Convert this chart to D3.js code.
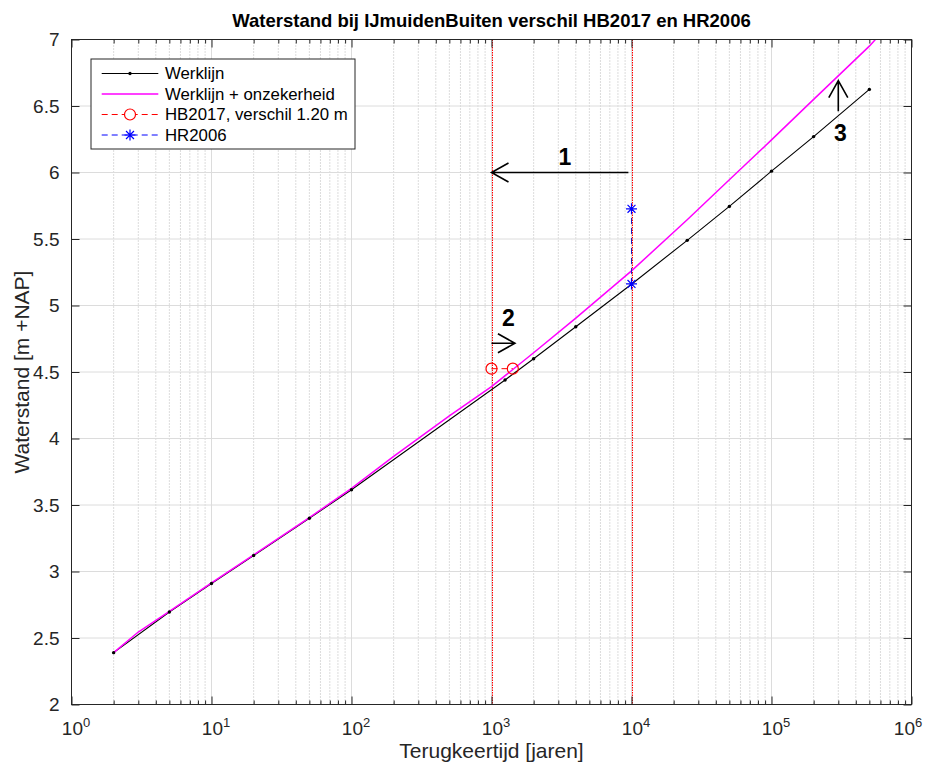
<!DOCTYPE html>
<html><head><meta charset="utf-8">
<script src="https://cdn.jsdelivr.net/npm/d3@7"></script>
<style>body{margin:0;background:#fff} svg{display:block;font-family:"Liberation Sans",Arial,Helvetica,sans-serif}</style>
</head><body><svg id="c" width="925" height="763"></svg>
<script>
// ---- data ----
const werklijnT = [2,5,10,20,50,100,1250,2000,4000,10000,25000,50000,100000,200000,500000];
const werklijnW = [2.39,2.695,2.91,3.12,3.40,3.615,4.44,4.60,4.84,5.16,5.49,5.745,6.01,6.27,6.625];
const onzekerT = [2,3,5,10,20,50,100,200,500,1000,2000,4000,10000,25000,50000,100000,200000,500000,1000000];
const onzekerW = [2.39,2.545,2.70,2.915,3.125,3.405,3.625,3.865,4.17,4.39,4.645,4.905,5.26,5.645,5.945,6.245,6.55,6.95,7.30];
const hb2017T = [1000,1420];
const hb2017W = [4.525,4.525];
const hr2006T = [10000,10000];
const hr2006W = [5.162,5.727];
const refLinesT = [1000,10000];
const xTickExp = [0,1,2,3,4,5,6];
const yTicks = [2,2.5,3,3.5,4,4.5,5,5.5,6,6.5,7];
const yTickLabels = ["2","2.5","3","3.5","4","4.5","5","5.5","6","6.5","7"];
const legendLabels = ["Werklijn","Werklijn + onzekerheid","HB2017, verschil 1.20 m","HR2006"];
const arrowLabels = ["1","2","3"];
const arrowFromT = [9500,1000,300000];
const arrowFromW = [6.0,4.716,6.46];
const arrowToT = [1000,1470,300000];
const arrowToW = [6.0,4.716,6.69];
const arrowLabelT = [3350,1318,310000];
const arrowLabelW = [6.117,4.904,6.30];
const titleText = "Waterstand bij IJmuidenBuiten verschil HB2017 en HR2006";
const xLabelText = "Terugkeertijd [jaren]";
const yLabelText = "Waterstand [m +NAP]";

// ---- layout ----
const L = 71.5, R = 911.5, T = 39.5, B = 704.5;
const svg = d3.select("#c");
const x = d3.scaleLog().domain([1,1e6]).range([L,R]);
const y = d3.scaleLinear().domain([2,7]).range([B,T]);
const axisColor = "#262626";

const xMajor = xTickExp.map(e => Math.pow(10,e));
const xMinor = [];
for (let e = 0; e < 6; e++) for (let k = 2; k <= 9; k++) xMinor.push(k*Math.pow(10,e));

// grid
const grid = svg.append("g");
grid.selectAll(".gmin").data(xMinor).enter().append("line")
  .attr("x1",d=>x(d)).attr("x2",d=>x(d)).attr("y1",T).attr("y2",B)
  .attr("stroke","#b8b8b8").attr("stroke-width",1).attr("stroke-dasharray","1,2");
grid.selectAll(".gmaj").data(xMajor.slice(1,-1)).enter().append("line")
  .attr("x1",d=>x(d)).attr("x2",d=>x(d)).attr("y1",T).attr("y2",B)
  .attr("stroke","#dcdcdc").attr("stroke-width",1);
grid.selectAll(".gy").data(yTicks.slice(1,-1)).enter().append("line")
  .attr("x1",L).attr("x2",R).attr("y1",d=>y(d)).attr("y2",d=>y(d))
  .attr("stroke","#dcdcdc").attr("stroke-width",1);

// clip
svg.append("clipPath").attr("id","clip").append("rect").attr("x",L).attr("y",T).attr("width",R-L).attr("height",B-T);
const plot = svg.append("g").attr("clip-path","url(#clip)");

// reference vertical lines (dotted red)
plot.selectAll(".ref").data(refLinesT).enter().append("line")
  .attr("x1",d=>Math.round(x(d))+0.5).attr("x2",d=>Math.round(x(d))+0.5).attr("y1",T).attr("y2",B)
  .attr("stroke","#ff0000").attr("stroke-width",1).attr("stroke-dasharray","1.5,1");

const line = d3.line().x(d=>x(d[0])).y(d=>y(d[1]));
const onz = onzekerT.map((t,i)=>[t,onzekerW[i]]);
const wrk = werklijnT.map((t,i)=>[t,werklijnW[i]]);
const hb = hb2017T.map((t,i)=>[t,hb2017W[i]]);
const hr = hr2006T.map((t,i)=>[t,hr2006W[i]]);

plot.append("path").attr("d",line(wrk)).attr("fill","none").attr("stroke","#000").attr("stroke-width",1.1);
plot.append("path").attr("d",line(onz)).attr("fill","none").attr("stroke","#ff00ff").attr("stroke-width",1.5);
plot.selectAll(".dot").data(wrk).enter().append("circle")
  .attr("cx",d=>x(d[0])).attr("cy",d=>y(d[1])).attr("r",1.7).attr("fill","#000");

plot.append("path").attr("d",line(hb)).attr("fill","none").attr("stroke","#ff0000").attr("stroke-width",1).attr("stroke-dasharray","6,4");
plot.selectAll(".hbc").data(hb).enter().append("circle")
  .attr("cx",d=>x(d[0])).attr("cy",d=>y(d[1])).attr("r",5.5).attr("fill","none").attr("stroke","#ff0000").attr("stroke-width",1.2);

function starPath(r){const a=r*0.72;return `M${-r},0L${r},0M0,${-r}L0,${r}M${-a},${-a}L${a},${a}M${-a},${a}L${a},${-a}`;}
plot.append("path").attr("d",line(hr)).attr("fill","none").attr("stroke","#2020c0").attr("stroke-width",1).attr("stroke-dasharray","6,4");
plot.selectAll(".hrs").data(hr).enter().append("path")
  .attr("transform",d=>`translate(${x(d[0])},${y(d[1])})`).attr("d",starPath(5.5))
  .attr("stroke","#0000ff").attr("stroke-width",1.2).attr("fill","none");

// frame
svg.append("rect").attr("x",L).attr("y",T).attr("width",R-L).attr("height",B-T)
  .attr("fill","none").attr("stroke",axisColor).attr("stroke-width",1);

// axes
function styleAxis(g){g.select(".domain").remove();g.selectAll(".tick line").attr("stroke",axisColor);}
const xb = svg.append("g").attr("transform",`translate(0,${B})`)
  .call(d3.axisBottom(x).tickValues(xMajor).tickSize(-8).tickPadding(17).tickFormat(""));
styleAxis(xb);
xb.selectAll(".tick text").each(function(d,i){
  const t=d3.select(this).attr("fill",axisColor).attr("font-size","19px").attr("dx", i===xTickExp.length-1 ? "-4" : "4");
  t.append("tspan").text("10");
  t.append("tspan").attr("dy","-0.6em").attr("font-size","13px").text(xTickExp[i]);
});
svg.append("g").attr("transform",`translate(0,${B})`)
  .call(d3.axisBottom(x).tickValues(xMinor).tickSize(-4).tickFormat("")).call(styleAxis);
svg.append("g").attr("transform",`translate(0,${T})`)
  .call(d3.axisTop(x).tickValues(xMajor).tickSize(-8).tickFormat("")).call(styleAxis);
svg.append("g").attr("transform",`translate(0,${T})`)
  .call(d3.axisTop(x).tickValues(xMinor).tickSize(-4).tickFormat("")).call(styleAxis);

const yl = svg.append("g").attr("transform",`translate(${L},0)`)
  .call(d3.axisLeft(y).tickValues(yTicks).tickSize(-8).tickPadding(12).tickFormat((d,i)=>yTickLabels[i]));
styleAxis(yl);
yl.selectAll(".tick text").attr("fill",axisColor).attr("font-size","19px").attr("font-family","Liberation Sans, Arial, sans-serif");
svg.append("g").attr("transform",`translate(${R},0)`)
  .call(d3.axisRight(y).tickValues(yTicks).tickSize(-8).tickFormat("")).call(styleAxis);

// titles
svg.append("text").attr("x",(L+R)/2).attr("y",27).attr("text-anchor","middle")
  .attr("font-size","18.5px").attr("font-weight","bold").attr("fill","#000").text(titleText);
svg.append("text").attr("x",(L+R)/2).attr("y",758).attr("text-anchor","middle")
  .attr("font-size","21px").attr("fill",axisColor).text(xLabelText);
svg.append("text").attr("transform",`translate(29,${(T+B)/2}) rotate(-90)`).attr("text-anchor","middle")
  .attr("font-size","21px").attr("fill",axisColor).text(yLabelText);

// arrows
const ann = svg.append("g");
arrowLabels.forEach((lab,i)=>{
  const x1=x(arrowFromT[i]), y1=y(arrowFromW[i]), x2=x(arrowToT[i]), y2=y(arrowToW[i]);
  const ang=Math.atan2(y2-y1,x2-x1), hl=17, hw=9.5;
  const bx=x2-hl*Math.cos(ang), by=y2-hl*Math.sin(ang);
  const px=-Math.sin(ang)*hw, py=Math.cos(ang)*hw;
  ann.append("path").attr("d",`M${x1},${y1}L${x2},${y2}M${bx+px},${by+py}L${x2},${y2}L${bx-px},${by-py}`)
    .attr("stroke","#000").attr("stroke-width",1.6).attr("fill","none");
  ann.append("text").attr("x",x(arrowLabelT[i])).attr("y",y(arrowLabelW[i])).attr("dy","0.35em")
    .attr("text-anchor","middle").attr("font-size","23px").attr("font-weight","bold").text(lab);
});

// legend
const lg = svg.append("g");
lg.append("rect").attr("x",91).attr("y",59).attr("width",264).attr("height",90)
  .attr("fill","#fff").attr("stroke",axisColor).attr("stroke-width",1);
const rowY = [73.5,94,114.5,135];
const lx1=101.7, lx2=158.3, lxc=(lx1+lx2)/2;
lg.append("line").attr("x1",lx1).attr("x2",lx2).attr("y1",rowY[0]).attr("y2",rowY[0]).attr("stroke","#000").attr("stroke-width",1.1);
lg.append("circle").attr("cx",lxc).attr("cy",rowY[0]).attr("r",1.7).attr("fill","#000");
lg.append("line").attr("x1",lx1).attr("x2",lx2).attr("y1",rowY[1]).attr("y2",rowY[1]).attr("stroke","#ff00ff").attr("stroke-width",1.5);
lg.append("line").attr("x1",lx1).attr("x2",lx2).attr("y1",rowY[2]).attr("y2",rowY[2]).attr("stroke","#ff0000").attr("stroke-dasharray","6,4");
lg.append("circle").attr("cx",lxc).attr("cy",rowY[2]).attr("r",5.5).attr("fill","#fff").attr("stroke","#ff0000").attr("stroke-width",1.2);
lg.append("line").attr("x1",lx1).attr("x2",lx2).attr("y1",rowY[3]).attr("y2",rowY[3]).attr("stroke","#0000ff").attr("stroke-dasharray","6,4");
lg.append("path").attr("transform",`translate(${lxc},${rowY[3]})`).attr("d",starPath(5.5)).attr("stroke","#0000ff").attr("stroke-width",1.2).attr("fill","none");
legendLabels.forEach((t,i)=>{
  lg.append("text").attr("x",165).attr("y",rowY[i]).attr("dy","0.35em").attr("font-size","16.8px").attr("fill","#000").text(t);
});
</script></body></html>
